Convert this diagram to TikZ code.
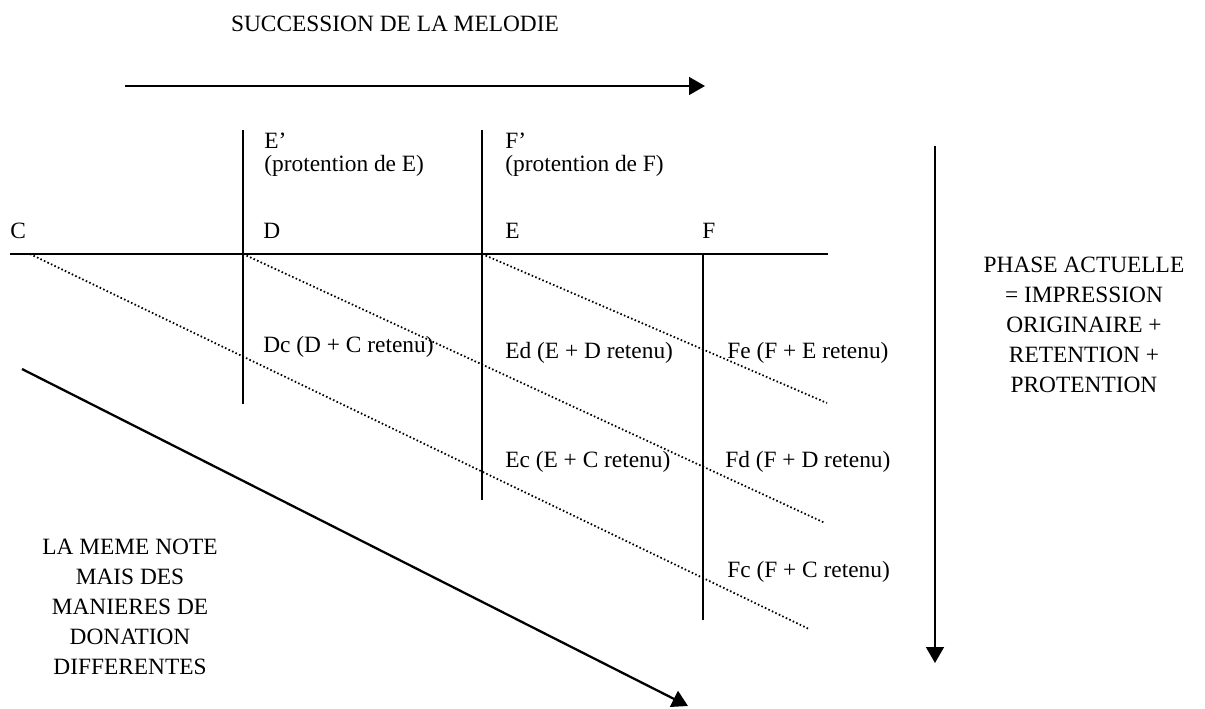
\documentclass[tikz,border=0pt]{standalone}
\usepackage{fontspec}
\setmainfont{Liberation Serif}
\usetikzlibrary{arrows.meta,positioning}

\begin{document}
\begin{tikzpicture}[
    x=0.02cm, y=-0.02cm,
    txt/.style={font=\fontsize{13.3}{17}\selectfont, inner sep=0pt, anchor=base west},
    block/.style={font=\fontsize{13.3}{17}\selectfont, inner sep=0pt, align=center},
    line/.style={line width=1.3pt},
    retain/.style={dash pattern=on 0.9pt off 1.3pt, line width=1pt},
    arrow/.style={line width=1.3pt, -{Triangle[length=9pt, width=10pt]}}
]
\useasboundingbox (0,0) rectangle (1205,708);

% Succession of the melody
\node[block, anchor=base] (title) at (395,31) {SUCCESSION DE LA MELODIE};
\coordinate (melstart) at (125,86);
\coordinate (melend) at (705,86);
\draw[arrow] (melstart) -- (melend);

% Notes on the time line
\node[txt] (noteC) at (10,238) {C};
\node[txt] (noteD) at (263,238) {D};
\node[txt] (noteE) at (505,238) {E};
\node[txt] (noteF) at (702,238) {F};

% Protentions
\node[txt] (protE) at (264,148) {E'};
\node[txt] (protEtxt) at (264,171) {(protention de E)};
\node[txt] (protF) at (505,148) {F'};
\node[txt] (protFtxt) at (505,171) {(protention de F)};

% Time line and phases
\coordinate (lineL) at (10,254);
\coordinate (lineR) at (828,254);
\coordinate (c) at (30,254);
\coordinate (d) at (243,254);
\coordinate (e) at (482,254);
\coordinate (f) at (703,254);
\coordinate (dtop) at (243,130);
\coordinate (dbot) at (243,404);
\coordinate (etop) at (482,130);
\coordinate (ebot) at (482,500);
\coordinate (fbot) at (703,620);

\draw[line] (lineL) -- (lineR);
\draw[line] (dtop) -- (dbot);
\draw[line] (etop) -- (ebot);
\draw[line] (f) -- (fbot);

% Retentions
\coordinate (cend) at (809,629);
\coordinate (dend) at (825,523);
\coordinate (eend) at (827,403);
\draw[retain] (c) -- (cend);
\draw[retain] (d) -- (dend);
\draw[retain] (e) -- (eend);

\node[txt] (dc) at (263,352) {Dc (D + C retenu)};
\node[txt] (ed) at (505,358) {Ed (E + D retenu)};
\node[txt] (fe) at (727,358) {Fe (F + E retenu)};
\node[txt] (ec) at (505,467) {Ec (E + C retenu)};
\node[txt] (fd) at (725,467) {Fd (F + D retenu)};
\node[txt] (fc) at (727,577) {Fc (F + C retenu)};

% Current phase
\coordinate (phtop) at (935,146);
\coordinate (phbot) at (935,663);
\draw[arrow] (phtop) -- (phbot);
\node[block] (phase) at (1084,325) {PHASE ACTUELLE\\= IMPRESSION\\ORIGINAIRE +\\RETENTION +\\PROTENTION};

% Same note, different modes of givenness
\coordinate (samestart) at (22,369);
\coordinate (sameend) at (688,706);
\draw[arrow] (samestart) -- (sameend);
\node[block] (same) at (130,607) {LA MEME NOTE\\MAIS DES\\MANIERES DE\\DONATION\\DIFFERENTES};

\end{tikzpicture}
\end{document}
